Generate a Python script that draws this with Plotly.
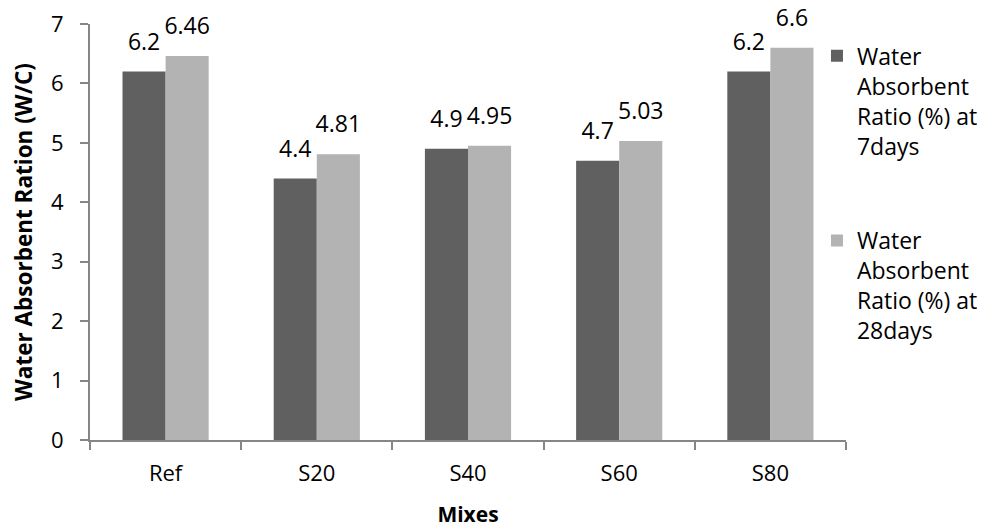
import plotly.graph_objects as go

categories = ["Ref", "S20", "S40", "S60", "S80"]
seven_days = [6.2, 4.4, 4.9, 4.7, 6.2]
twenty_eight_days = [6.46, 4.81, 4.95, 5.03, 6.6]
series_names = ["Water<br>Absorbent<br>Ratio (%) at<br>7days",
                "Water<br>Absorbent<br>Ratio (%) at<br>28days"]
colors = ["#606060", "#b3b3b3"]
y_ticks = [0, 1, 2, 3, 4, 5, 6, 7]

FONT = "Open Sans"
GAP = 0.43
fig = go.Figure()
for i, (vals, name) in enumerate([(seven_days, series_names[0]),
                                   (twenty_eight_days, series_names[1])]):
    fig.add_trace(go.Bar(x=categories, y=vals, name=name,
                         legendgroup=f"g{i}", offsetgroup=f"o{i}",
                         marker=dict(color=colors[i], line=dict(width=0))))
for i, vals in enumerate([seven_days, twenty_eight_days]):
    fig.add_trace(go.Scatter(x=categories, y=vals, mode="markers+text",
                             offsetgroup=f"o{i}", showlegend=False, hoverinfo="skip",
                             marker=dict(size=24, color="rgba(0,0,0,0)"),
                             text=[f"{v:g}" for v in vals], textposition="top center",
                             cliponaxis=False,
                             textfont=dict(size=23, color="#000000", family=FONT)))

fig.update_layout(
    width=986, height=529,
    margin=dict(l=90, r=140, t=24, b=89, autoexpand=False),
    paper_bgcolor="white", plot_bgcolor="white",
    font=dict(family=FONT, size=22, color="#000000"),
    barmode="group", bargap=GAP, bargroupgap=0,
    scattermode="group", scattergap=GAP,
    showlegend=True,
    legend=dict(x=0.9616, xanchor="left", y=0.975, yanchor="top",
                font=dict(size=23, family=FONT), tracegroupgap=62,
                valign="top", bgcolor="rgba(0,0,0,0)"),
)
fig.update_xaxes(
    showline=True, linecolor="#868686", linewidth=2,
    ticks="outside", tickson="boundaries", ticklen=8, tickcolor="#868686", tickwidth=2,
    tickfont=dict(size=22, family=FONT), ticklabelstandoff=13,
    title=dict(text="<b>Mixes</b>", font=dict(size=21, family=FONT), standoff=21),
    showgrid=False,
)
fig.update_yaxes(
    range=[0, 7], tickvals=y_ticks,
    showline=True, linecolor="#868686", linewidth=2,
    ticks="outside", ticklen=8, tickcolor="#868686", tickwidth=2,
    tickfont=dict(size=22, family=FONT), ticklabelstandoff=12,
    title=dict(text="<b>Water Absorbent Ration (W/C)</b>", font=dict(size=22.5, family=FONT), standoff=12),
    showgrid=False, zeroline=False,
)

fig.write_html("out.html")
